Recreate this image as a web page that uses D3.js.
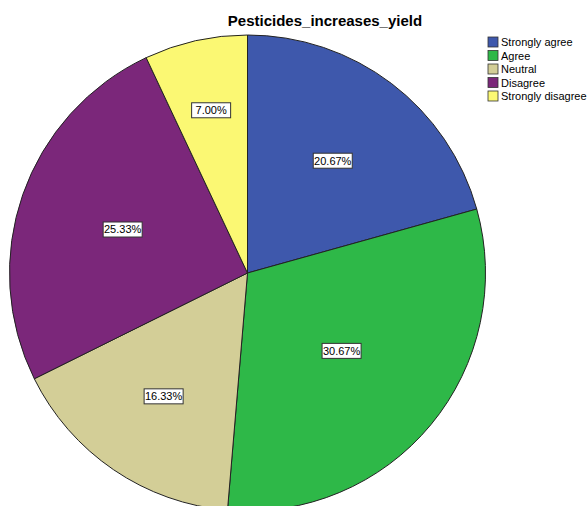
<!DOCTYPE html>
<html>
<head>
<meta charset="utf-8">
<script src="https://cdn.jsdelivr.net/npm/d3@7"></script>
<style>
  body { margin: 0; background: #fff; }
  svg { display: block; font-family: Arial, "Liberation Sans", sans-serif; }
</style>
</head>
<body>
<div id="chart"></div>
<script>
// data
const categories = ["Strongly agree", "Agree", "Neutral", "Disagree", "Strongly disagree"];
const percents = [20.67, 30.67, 16.33, 25.33, 7.00];
const colors = ["#3e58ac", "#2eb848", "#d3ce97", "#7b277a", "#fbf873"];

const width = 587, height = 506;
const cx = 247.5, cy = 273, radius = 238;

const svg = d3.select("#chart").append("svg")
  .attr("width", width).attr("height", height);

svg.append("text")
  .attr("x", 325).attr("y", 26)
  .attr("text-anchor", "middle")
  .style("font-size", "15px").style("font-weight", "bold")
  .text("Pesticides_increases_yield");

const data = categories.map((c, i) => ({ name: c, value: percents[i], color: colors[i] }));

const pie = d3.pie().value(d => d.value).sort(null);
const arc = d3.arc().innerRadius(0).outerRadius(radius);

const g = svg.append("g").attr("transform", `translate(${cx},${cy})`);
const arcs = pie(data);

g.selectAll("path")
  .data(arcs)
  .enter().append("path")
  .attr("d", arc)
  .attr("fill", d => d.data.color)
  .attr("stroke", "#222")
  .attr("stroke-width", 1);

// labels: narrower slices push the label further out
const labels = g.selectAll("g.lbl")
  .data(arcs)
  .enter().append("g")
  .attr("class", "lbl")
  .attr("transform", d => {
    const a = (d.endAngle - d.startAngle) / 2;
    const mid = (d.startAngle + d.endAngle) / 2;
    const r = radius * (0.756 - 0.252 * a);
    return `translate(${Math.sin(mid) * r},${-Math.cos(mid) * r})`;
  });

labels.append("rect")
  .attr("x", -19.5).attr("y", -7.5)
  .attr("width", 39).attr("height", 15)
  .attr("fill", "#fff")
  .attr("stroke", "#333")
  .attr("stroke-width", 1);

labels.append("text")
  .attr("text-anchor", "middle")
  .attr("dy", "0.35em")
  .style("font-size", "11px")
  .text(d => d.data.value.toFixed(2) + "%");

// legend
const legend = svg.append("g").attr("transform", "translate(488,37)");
const rows = legend.selectAll("g")
  .data(data)
  .enter().append("g")
  .attr("transform", (d, i) => `translate(0,${i * 13.5})`);

rows.append("rect")
  .attr("width", 10).attr("height", 10)
  .attr("fill", d => d.color)
  .attr("stroke", "#333")
  .attr("stroke-width", 0.8);

rows.append("text")
  .attr("x", 13).attr("y", 9)
  .style("font-size", "11px")
  .text(d => d.name);
</script>
</body>
</html>
